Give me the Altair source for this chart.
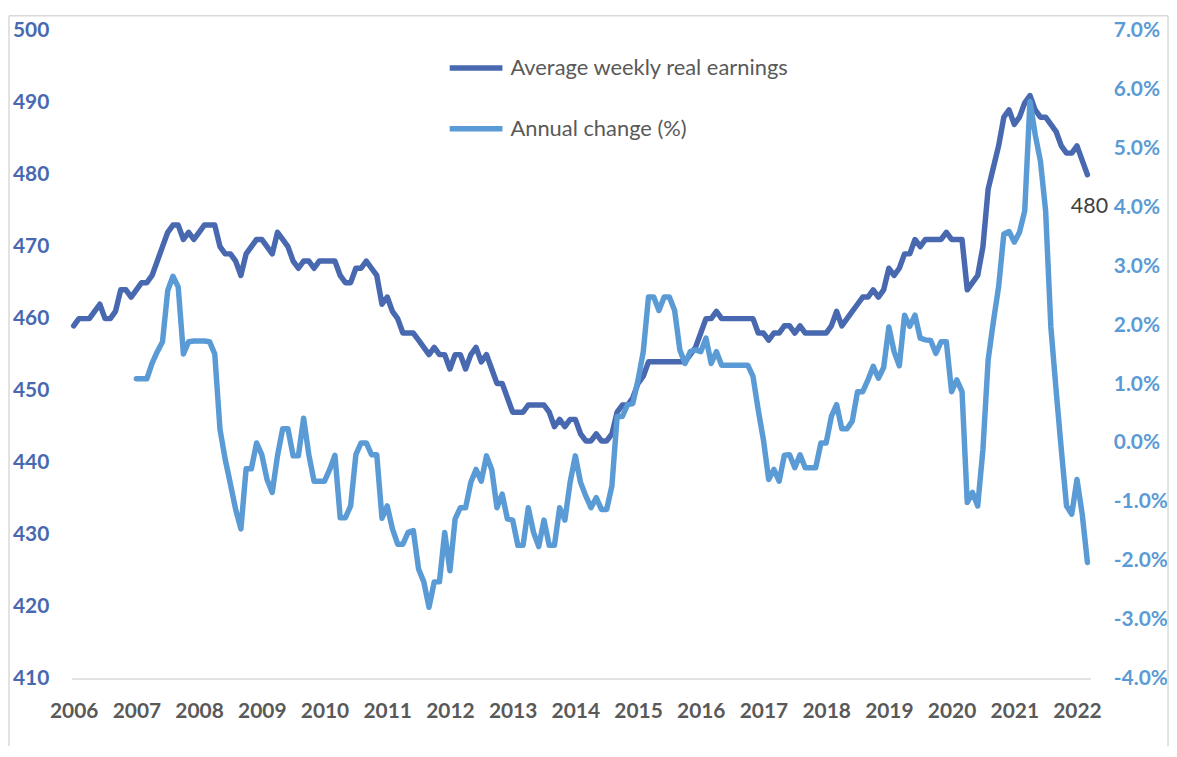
import altair as alt
import pandas as pd

# ---------------- data ----------------
start_year = 2006
change_offset_months = 12  # annual change series starts Jan 2007

earnings = [
    459, 460, 460, 460, 461, 462, 460, 460, 461, 464, 464, 463,   # 2006
    464, 465, 465, 466, 468, 470, 472, 473, 473, 471, 472, 471,   # 2007
    472, 473, 473, 473, 470, 469, 469, 468, 466, 469, 470, 471,   # 2008
    471, 470, 469, 472, 471, 470, 468, 467, 468, 468, 467, 468,   # 2009
    468, 468, 468, 466, 465, 465, 467, 467, 468, 467, 466, 462,   # 2010
    463, 461, 460, 458, 458, 458, 457, 456, 455, 456, 455, 455,   # 2011
    453, 455, 455, 453, 455, 456, 454, 455, 453, 451, 451, 449,   # 2012
    447, 447, 447, 448, 448, 448, 448, 447, 445, 446, 445, 446,   # 2013
    446, 444, 443, 443, 444, 443, 443, 444, 447, 448, 448, 449,   # 2014
    451, 452, 454, 454, 454, 454, 454, 454, 454, 454, 455, 456,   # 2015
    458, 460, 460, 461, 460, 460, 460, 460, 460, 460, 460, 458,   # 2016
    458, 457, 458, 458, 459, 459, 458, 459, 458, 458, 458, 458,   # 2017
    458, 459, 461, 459, 460, 461, 462, 463, 463, 464, 463, 464,   # 2018
    467, 466, 467, 469, 469, 471, 470, 471, 471, 471, 471, 472,   # 2019
    471, 471, 471, 464, 465, 466, 470, 478, 481, 484, 488, 489,   # 2020
    487, 488, 490, 491, 489, 488, 488, 487, 486, 484, 483, 483,   # 2021
    484, 482, 480,                                                # 2022
]

annual_change = [
    1.09, 1.09, 1.09, 1.35, 1.55, 1.72, 2.59, 2.83, 2.65, 1.51, 1.72, 1.73,          # 2007
    1.73, 1.73, 1.72, 1.51, 0.23, -0.28, -0.70, -1.13, -1.46, -0.44, -0.44, 0.00,    # 2008
    -0.20, -0.62, -0.84, -0.22, 0.24, 0.24, -0.22, -0.22, 0.42, -0.20, -0.65, -0.65, # 2009
    -0.65, -0.45, -0.21, -1.27, -1.27, -1.07, -0.20, 0.00, 0.00, -0.20, -0.20, -1.28,# 2010
    -1.07, -1.46, -1.72, -1.72, -1.52, -1.49, -2.14, -2.36, -2.79, -2.36, -2.36, -1.52,  # 2011
    -2.17, -1.29, -1.10, -1.10, -0.67, -0.45, -0.65, -0.22, -0.45, -1.10, -0.87, -1.29,  # 2012
    -1.31, -1.74, -1.74, -1.10, -1.52, -1.76, -1.31, -1.74, -1.74, -1.10, -1.31, -0.67,  # 2013
    -0.22, -0.67, -0.90, -1.10, -0.93, -1.13, -1.13, -0.73, 0.45, 0.45, 0.65, 0.67,      # 2014
    1.07, 1.55, 2.48, 2.48, 2.25, 2.48, 2.48, 2.25, 1.58, 1.35, 1.55, 1.58,          # 2015
    1.55, 1.78, 1.35, 1.55, 1.32, 1.32, 1.32, 1.32, 1.32, 1.32, 1.13, 0.56,          # 2016
    0.05, -0.62, -0.45, -0.65, -0.21, -0.20, -0.42, -0.20, -0.42, -0.42, -0.42, 0.00,# 2017
    0.00, 0.45, 0.65, 0.24, 0.24, 0.37, 0.87, 0.87, 1.07, 1.30, 1.10, 1.28,          # 2018
    1.97, 1.55, 1.31, 2.17, 1.98, 2.17, 1.78, 1.75, 1.74, 1.52, 1.72, 1.72,          # 2019
    0.87, 1.07, 0.87, -1.01, -0.84, -1.07, -0.11, 1.41, 2.06, 2.65, 3.55, 3.59,      # 2020
    3.41, 3.58, 3.94, 5.80, 5.24, 4.79, 3.94, 1.97, 0.90, -0.11, -1.07, -1.21,       # 2021
    -0.62, -1.21, -2.03,                                                              # 2022
]

year_ticks = list(range(2006, 2023))
left_ticks = list(range(410, 501, 10))
right_ticks = list(range(-4, 8))

S1 = "Average weekly real earnings"
S2 = "Annual change (%)"
DARK = "#4868b0"
LIGHT = "#5b9bd5"
GREY_TXT = "#595959"
FONT = "Lato"

df1 = pd.DataFrame({
    "t": [start_year + i / 12 for i in range(len(earnings))],
    "v": earnings,
    "series": S1,
})
df2 = pd.DataFrame({
    "t": [start_year + (i + change_offset_months) / 12 for i in range(len(annual_change))],
    "v": annual_change,
    "series": S2,
})
last = df1.tail(1)

# ---------------- scales / axes ----------------
xscale = alt.Scale(domain=[2005.968, 2022.214], nice=False, zero=False)
xaxis = alt.Axis(values=year_ticks, format="d", labelFont=FONT, labelFontSize=21,
                 labelFontWeight="bold", labelColor=GREY_TXT, ticks=False,
                 domain=True, domainColor="#d9d9d9", domainWidth=1.5, grid=False,
                 title=None, labelPadding=22, labelFlush=False, labelOverlap=False)

color = alt.Color("series:N",
                  scale=alt.Scale(domain=[S1, S2], range=[DARK, LIGHT]),
                  legend=alt.Legend(orient="none", legendX=377, legendY=8, title=None,
                                    symbolType="stroke", symbolSize=2809, symbolStrokeWidth=5.5,
                                    labelFont=FONT, labelFontSize=22, labelColor=GREY_TXT,
                                    labelOffset=5, rowPadding=20, padding=0, labelLimit=0))

left_scale = alt.Scale(domain=[410, 500], nice=False, zero=False)
left_axis = alt.Axis(orient="left", values=left_ticks, labelFont=FONT, labelFontSize=21,
                     labelFontWeight="bold", labelColor=DARK, domain=False, ticks=False,
                     grid=False, title=None, labelPadding=23)

earn_line = alt.Chart(df1).mark_line(strokeWidth=5.5, strokeCap="round", strokeJoin="round").encode(
    x=alt.X("t:Q", scale=xscale, axis=xaxis),
    y=alt.Y("v:Q", scale=left_scale, axis=left_axis),
    color=color,
)

earn_label = alt.Chart(last).mark_text(dx=2, dy=32, font=FONT, fontSize=21.5, color="#404040").encode(
    x=alt.X("t:Q", scale=xscale, axis=xaxis),
    y=alt.Y("v:Q", scale=left_scale, axis=left_axis),
    text=alt.Text("v:Q", format="d"),
)

earn = alt.layer(earn_line, earn_label)

change_line = alt.Chart(df2).mark_line(strokeWidth=5.5, strokeCap="round", strokeJoin="round").encode(
    x=alt.X("t:Q", scale=xscale, axis=xaxis),
    y=alt.Y("v:Q", scale=alt.Scale(domain=[-4, 7], nice=False, zero=False),
            axis=alt.Axis(orient="right", values=right_ticks,
                          labelExpr="(datum.value < 0 ? '-' : '') + format(abs(datum.value), '.1f') + '%'",
                          labelFont=FONT, labelFontSize=21, labelFontWeight="bold",
                          labelColor=LIGHT, domain=False, ticks=False, grid=False,
                          title=None, labelPadding=23)),
    color=color,
)

# chart-area border (decoration)
one = pd.DataFrame({"a": [0]})
border_top = alt.Chart(one).mark_rule(color="#d9d9d9", strokeWidth=1.5).encode(
    x=alt.value(-63), x2=alt.value(1102), y=alt.value(-15))
border_left = alt.Chart(one).mark_rule(color="#d9d9d9", strokeWidth=1.5).encode(
    x=alt.value(-63), y=alt.value(-15), y2=alt.value(720))
border_right = alt.Chart(one).mark_rule(color="#d9d9d9", strokeWidth=1.5).encode(
    x=alt.value(1102), y=alt.value(-15), y2=alt.value(720))

chart = alt.layer(border_top, border_left, border_right, earn, change_line).resolve_scale(
    y="independent"
).properties(
    width=1024, height=651,
    autosize=alt.AutoSizeParams(type="none"),
    padding={"left": 64, "top": 21, "right": 79, "bottom": 66},
    background="white",
).configure_view(stroke=None)

chart.save("out.html", embed_options={"renderer": "svg", "actions": False})
